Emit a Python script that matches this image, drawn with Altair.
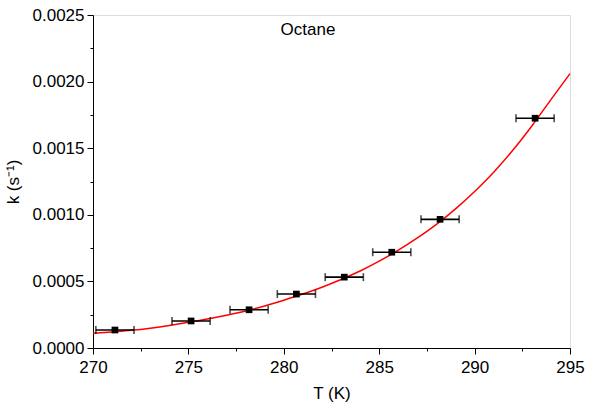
import altair as alt
import pandas as pd

# measured data
T = [271.15, 275.14, 278.18, 280.66, 283.17, 285.66, 288.19, 293.17]
k = [0.000135, 0.000203, 0.000287, 0.000405, 0.000532, 0.000719, 0.000966, 0.001725]
T_err = [1.0, 1.0, 1.0, 1.0, 1.0, 1.0, 1.0, 1.0]

# fitted curve
fit_T = [270, 271, 272, 273, 274, 275, 276, 277, 278, 279, 280, 281, 282, 283,
         284, 285, 286, 287, 288, 289, 290, 291, 292, 293, 294, 295]
fit_k = [0.000110, 0.000121, 0.000133, 0.000149, 0.000169, 0.000193, 0.000218,
         0.000246, 0.000278, 0.000316, 0.000359, 0.000405, 0.000456, 0.000514,
         0.000578, 0.000652, 0.000734, 0.000826, 0.000928, 0.001044, 0.001175,
         0.001320, 0.001484, 0.001667, 0.001865, 0.002060]

x_major = [270, 275, 280, 285, 290, 295]
x_minor = [272.5, 277.5, 282.5, 287.5, 292.5]
y_major = [0.0, 0.0005, 0.0010, 0.0015, 0.0020, 0.0025]
y_minor = [0.00025, 0.00075, 0.00125, 0.00175, 0.00225]

pts = pd.DataFrame({"T": T, "k": k, "err": T_err})
pts["lo"] = pts["T"] - pts["err"]
pts["hi"] = pts["T"] + pts["err"]
fit = pd.DataFrame({"T": fit_T, "k": fit_k})

FONT = "Liberation Sans"
FS = 17
xscale = alt.Scale(domain=[270, 295], nice=False, zero=False)
yscale = alt.Scale(domain=[0, 0.0025], nice=False, zero=False)

xaxis = alt.Axis(values=x_major, format="d", title="T (K)", tickSize=6,
                 labelFontSize=FS, titleFontSize=FS, labelFont=FONT, titleFont=FONT,
                 labelColor="black", titleColor="black", titleFontWeight="normal",
                 domainColor="black", tickColor="black", grid=False, labelPadding=5,
                 titlePadding=10, labelFlush=False, orient="bottom")
yaxis = alt.Axis(values=y_major, format=".4f", title="k (s⁻¹)", tickSize=6,
                 labelFontSize=FS, titleFontSize=FS, labelFont=FONT, titleFont=FONT,
                 labelColor="black", titleColor="black", titleFontWeight="normal",
                 domainColor="black", tickColor="black", grid=False, labelPadding=3,
                 titlePadding=10, labelFlush=False, orient="left")

curve = alt.Chart(fit).mark_line(color="#ff0000", strokeWidth=1.5, interpolate="monotone").encode(
    x=alt.X("T:Q", scale=xscale, axis=xaxis),
    y=alt.Y("k:Q", scale=yscale, axis=yaxis),
)

minor_x = alt.Chart(pd.DataFrame({"T": x_minor})).mark_point(opacity=0).encode(
    x=alt.X("T:Q", scale=xscale, axis=alt.Axis(values=x_minor, labels=False, domain=False,
                                               tickSize=3, tickColor="black", grid=False,
                                               title=None, orient="bottom")),
)
minor_y = alt.Chart(pd.DataFrame({"k": y_minor})).mark_point(opacity=0).encode(
    y=alt.Y("k:Q", scale=yscale, axis=alt.Axis(values=y_minor, labels=False, domain=False,
                                               tickSize=3, tickColor="black", grid=False,
                                               title=None, orient="left")),
)

bars = alt.Chart(pts).mark_rule(color="black", strokeWidth=1.6).encode(
    x=alt.X("lo:Q", scale=xscale, axis=None), x2="hi:Q",
    y=alt.Y("k:Q", scale=yscale, axis=None))
caps_lo = alt.Chart(pts).mark_tick(color="black", orient="vertical", size=8, thickness=1.6).encode(
    x=alt.X("lo:Q", scale=xscale, axis=None), y=alt.Y("k:Q", scale=yscale, axis=None))
caps_hi = alt.Chart(pts).mark_tick(color="black", orient="vertical", size=8, thickness=1.6).encode(
    x=alt.X("hi:Q", scale=xscale, axis=None), y=alt.Y("k:Q", scale=yscale, axis=None))
squares = alt.Chart(pts).mark_square(color="black", size=45, opacity=1).encode(
    x=alt.X("T:Q", scale=xscale, axis=None), y=alt.Y("k:Q", scale=yscale, axis=None))

label = alt.Chart(pd.DataFrame({"t": ["Octane"]})).mark_text(
    font=FONT, fontSize=FS, color="black", align="center", baseline="middle").encode(
    x=alt.value(215), y=alt.value(15), text="t:N")

chart = alt.layer(curve, minor_x, minor_y, bars, caps_lo, caps_hi, squares, label).resolve_axis(
    x="independent", y="independent").properties(
    width=477, height=333,
    autosize=alt.AutoSizeParams(type="none"),
    padding={"left": 93, "top": 15, "right": 34, "bottom": 63},
).configure_view(stroke=None).configure(background="white")

chart.save("out.html", embed_options={"renderer": "svg", "actions": False})
